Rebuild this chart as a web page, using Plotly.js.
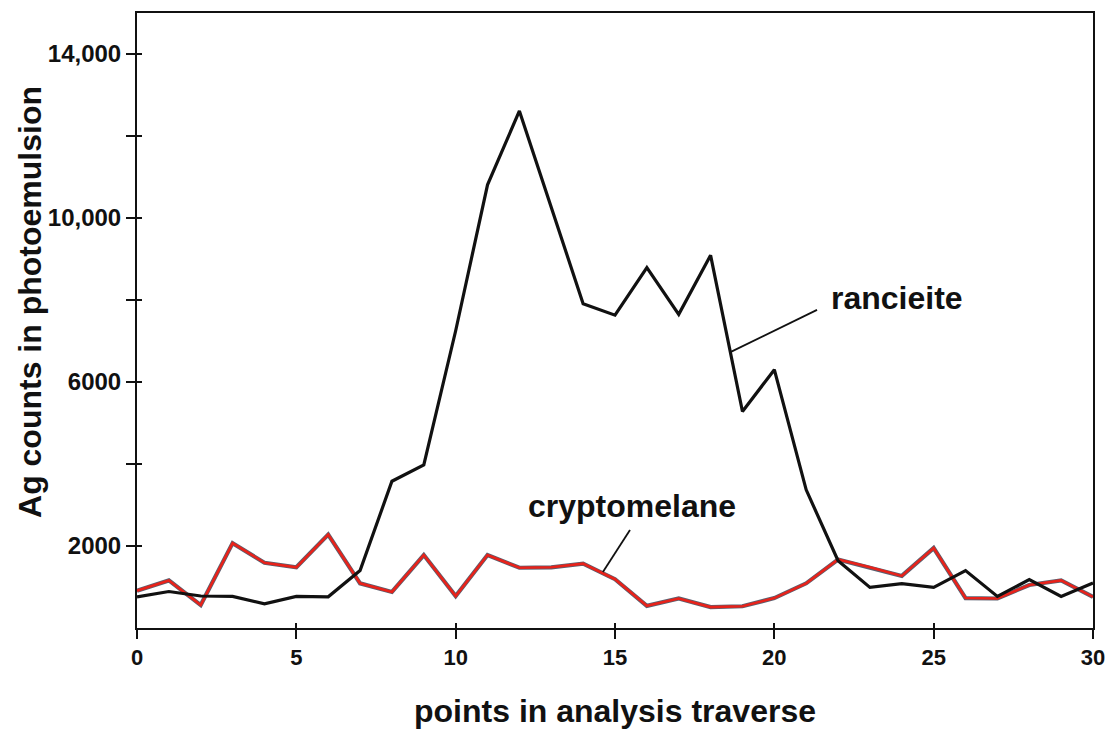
<!DOCTYPE html>
<html>
<head>
<meta charset="utf-8">
<script src="https://cdn.plot.ly/plotly-3.0.1.min.js"></script>
<style>
  html, body { margin: 0; padding: 0; background: #fff; }
  #chart { width: 1112px; height: 737px; }
</style>
</head>
<body>
<div id="chart"></div>
<script>
// Ag counts along the analysis traverse, points 0..30
const points = [0,1,2,3,4,5,6,7,8,9,10,11,12,13,14,15,16,17,18,19,20,21,22,23,24,25,26,27,28,29,30];

const rancieite = [760, 890, 780, 770, 590, 770, 760, 1400, 3580, 3980, 7250, 10810, 12610, 10250, 7910, 7630,
                   8790, 7650, 9090, 5280, 6300, 3370, 1640, 990, 1080, 990, 1400, 770, 1180, 770, 1100];

const cryptomelane = [910, 1160, 560, 2070, 1590, 1480, 2280, 1090, 880, 1780, 780, 1780, 1470, 1480, 1570, 1190,
                      540, 720, 510, 530, 730, 1090, 1670, 1480, 1270, 1950, 730, 720, 1050, 1160, 760];

const yTickVals = [2000, 4000, 6000, 8000, 10000, 12000, 14000];
const yTickText = ['2000', '', '6000', '', '10,000', '', '14,000'];
const xTickVals = [0, 5, 10, 15, 20, 25, 30];

const boldSans = 'Liberation Sans, Arial, sans-serif';
const ink = '#111111';

const traces = [
  { // dark under-stroke of the cryptomelane line
    x: points, y: cryptomelane, mode: 'lines', hoverinfo: 'skip',
    line: { color: '#5a6070', width: 4.2 }
  },
  {
    x: points, y: cryptomelane, mode: 'lines', name: 'cryptomelane',
    line: { color: '#e8221a', width: 2.6 }
  },
  {
    x: points, y: rancieite, mode: 'lines', name: 'rancieite',
    line: { color: ink, width: 3.2 }
  }
];

const axisCommon = {
  showline: true, linecolor: ink, linewidth: 2, showgrid: false, zeroline: false
};

const layout = {
  width: 1112, height: 737,
  margin: { l: 137, r: 19, t: 13, b: 109 },
  paper_bgcolor: '#ffffff', plot_bgcolor: '#ffffff',
  showlegend: false,
  xaxis: Object.assign({}, axisCommon, {
    range: [0, 30], tickvals: xTickVals, ticktext: xTickVals.map(String),
    ticks: 'outside', ticklen: 9, tickwidth: 2, tickcolor: ink, mirror: true,
    tickfont: { family: boldSans, size: 22, color: ink, weight: 'bold' },
    title: { text: 'points in analysis traverse', standoff: 30,
             font: { family: boldSans, size: 32, color: ink, weight: 'bold' } }
  }),
  yaxis: Object.assign({}, axisCommon, {
    range: [0, 15000], tickvals: yTickVals, ticktext: yTickText,
    ticks: 'outside', ticklen: 9, tickwidth: 2, tickcolor: ink, mirror: true,
    tickfont: { family: boldSans, size: 24, color: ink, weight: 'bold' }
  }),
  // overlay axes carry the short inward half of each crossing tick
  xaxis2: Object.assign({}, axisCommon, {
    overlaying: 'x', anchor: 'y', side: 'bottom', range: [0, 30],
    tickvals: xTickVals, showticklabels: false,
    ticks: 'inside', ticklen: 5, tickwidth: 2, tickcolor: ink
  }),
  yaxis2: Object.assign({}, axisCommon, {
    overlaying: 'y', anchor: 'x', side: 'left', range: [0, 15000],
    tickvals: yTickVals, showticklabels: false,
    ticks: 'inside', ticklen: 5, tickwidth: 2, tickcolor: ink
  }),
  shapes: [
    { type: 'line', xref: 'x', yref: 'y', x0: 18.62, y0: 6730, x1: 21.34, y1: 7760,
      line: { color: ink, width: 1.8 } },
    { type: 'line', xref: 'x', yref: 'y', x0: 14.62, y0: 1365, x1: 15.47, y1: 2390,
      line: { color: ink, width: 1.8 } }
  ],
  annotations: [
    { xref: 'paper', yref: 'paper', x: -0.112, y: 0.53, xanchor: 'center', yanchor: 'middle',
      text: 'Ag counts in photoemulsion', textangle: -90, showarrow: false,
      font: { family: boldSans, size: 32, color: ink, weight: 'bold' } },
    { xref: 'x', yref: 'y', x: 21.71, y: 8050, xanchor: 'left', yanchor: 'middle',
      text: 'rancieite', showarrow: false,
      font: { family: boldSans, size: 32, color: ink, weight: 'bold' } },
    { xref: 'x', yref: 'y', x: 15.53, y: 2975, xanchor: 'center', yanchor: 'middle',
      text: 'cryptomelane', showarrow: false,
      font: { family: boldSans, size: 32, color: ink, weight: 'bold' } }
  ]
};

// empty traces bind the overlay axes so they are drawn
traces.push({ x: [], y: [], xaxis: 'x2', yaxis: 'y2', mode: 'lines', hoverinfo: 'skip' });

Plotly.newPlot('chart', traces, layout, { displayModeBar: false, staticPlot: true });
</script>
</body>
</html>
